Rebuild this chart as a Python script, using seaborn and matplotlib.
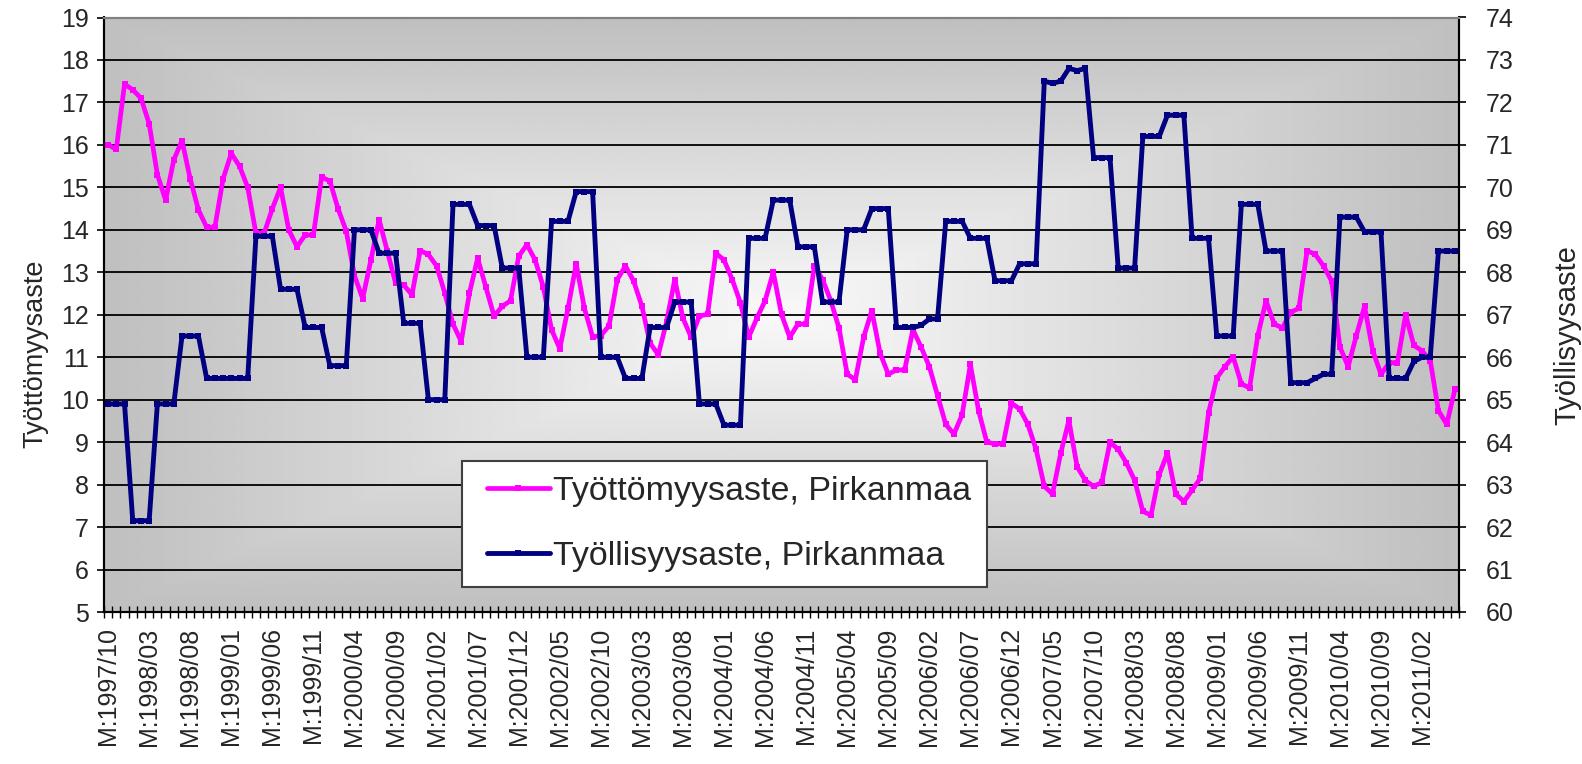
import numpy as np
import matplotlib.pyplot as plt
import seaborn as sns
from matplotlib.patches import Rectangle

# Monthly data, M:1997/10 ... M:2011/06
# Unemployment rate (left axis), Pirkanmaa
unemployment = [
    16.0, 15.9, 17.43,                                                              # 1997 Oct-Dec
    17.3, 17.1, 16.5, 15.3, 14.7, 15.65, 16.1, 15.2, 14.47, 14.06, 14.06, 15.2,      # 1998
    15.8, 15.5, 15.0, 13.92, 13.92, 14.5, 15.0, 14.0, 13.6, 13.88, 13.88, 15.24,     # 1999
    15.15, 14.5, 13.97, 12.92, 12.38, 13.29, 14.24, 13.5, 12.75, 12.7, 12.47, 13.51, # 2000
    13.42, 13.15, 12.51, 11.78, 11.37, 12.51, 13.33, 12.65, 11.97, 12.2, 12.33, 13.38,  # 2001
    13.65, 13.29, 12.65, 11.65, 11.2, 12.15, 13.2, 12.15, 11.48, 11.51, 11.74, 12.83,   # 2002
    13.15, 12.79, 12.2, 11.33, 11.06, 11.83, 12.83, 11.92, 11.47, 11.97, 12.01, 13.45,  # 2003
    13.29, 12.83, 12.28, 11.47, 11.92, 12.33, 13.0, 12.01, 11.47, 11.78, 11.78, 13.15,  # 2004
    12.83, 12.33, 11.69, 10.6, 10.47, 11.47, 12.1, 11.1, 10.6, 10.7, 10.7, 11.65,       # 2005
    11.24, 10.78, 10.1, 9.42, 9.19, 9.65, 10.83, 9.74, 9.0, 8.96, 8.96, 9.92,           # 2006
    9.78, 9.42, 8.83, 7.96, 7.78, 8.74, 9.51, 8.42, 8.1, 7.96, 8.05, 9.0,               # 2007
    8.83, 8.51, 8.1, 7.37, 7.28, 8.24, 8.74, 7.78, 7.6, 7.87, 8.15, 9.69,               # 2008
    10.51, 10.78, 11.01, 10.37, 10.28, 11.51, 12.33, 11.78, 11.69, 12.06, 12.15, 13.51, # 2009
    13.42, 13.15, 12.79, 11.24, 10.78, 11.51, 12.2, 11.15, 10.6, 10.87, 10.87, 12.0,    # 2010
    11.28, 11.15, 10.92, 9.74, 9.42, 10.24,                                          # 2011 Jan-Jun
]

# Employment rate (right axis), Pirkanmaa
employment = [
    64.9, 64.9, 64.9,
    62.15, 62.15, 62.15, 64.9, 64.9, 64.9, 66.5, 66.5, 66.5, 65.5, 65.5, 65.5,
    65.5, 65.5, 65.5, 68.85, 68.85, 68.85, 67.6, 67.6, 67.6, 66.7, 66.7, 66.7,
    65.8, 65.8, 65.8, 69.0, 69.0, 69.0, 68.45, 68.45, 68.45, 66.8, 66.8, 66.8,
    65.0, 65.0, 65.0, 69.6, 69.6, 69.6, 69.1, 69.1, 69.1, 68.1, 68.1, 68.1,
    66.0, 66.0, 66.0, 69.2, 69.2, 69.2, 69.9, 69.9, 69.9, 66.0, 66.0, 66.0,
    65.5, 65.5, 65.5, 66.7, 66.7, 66.7, 67.3, 67.3, 67.3, 64.9, 64.9, 64.9,
    64.4, 64.4, 64.4, 68.8, 68.8, 68.8, 69.7, 69.7, 69.7, 68.6, 68.6, 68.6,
    67.3, 67.3, 67.3, 69.0, 69.0, 69.0, 69.5, 69.5, 69.5, 66.7, 66.7, 66.7,
    66.75, 66.9, 66.9, 69.2, 69.2, 69.2, 68.8, 68.8, 68.8, 67.8, 67.8, 67.8,
    68.2, 68.2, 68.2, 72.5, 72.45, 72.5, 72.8, 72.75, 72.8, 70.7, 70.7, 70.7,
    68.1, 68.1, 68.1, 71.2, 71.2, 71.2, 71.7, 71.7, 71.7, 68.8, 68.8, 68.8,
    66.5, 66.5, 66.5, 69.6, 69.6, 69.6, 68.5, 68.5, 68.5, 65.4, 65.4, 65.4,
    65.5, 65.6, 65.6, 69.3, 69.3, 69.3, 68.95, 68.95, 68.95, 65.5, 65.5, 65.5,
    65.9, 66.0, 66.0, 68.5, 68.5, 68.5,
]

tick_labels = ['M:1997/10', 'M:1998/03', 'M:1998/08', 'M:1999/01', 'M:1999/06',
               'M:1999/11', 'M:2000/04', 'M:2000/09', 'M:2001/02', 'M:2001/07',
               'M:2001/12', 'M:2002/05', 'M:2002/10', 'M:2003/03', 'M:2003/08',
               'M:2004/01', 'M:2004/06', 'M:2004/11', 'M:2005/04', 'M:2005/09',
               'M:2006/02', 'M:2006/07', 'M:2006/12', 'M:2007/05', 'M:2007/10',
               'M:2008/03', 'M:2008/08', 'M:2009/01', 'M:2009/06', 'M:2009/11',
               'M:2010/04', 'M:2010/09', 'M:2011/02']

label_unemp = 'Työttömyysaste, Pirkanmaa'
label_emp = 'Työllisyysaste, Pirkanmaa'

sns.set_style('ticks')
plt.rcParams['font.family'] = ['Liberation Sans', 'DejaVu Sans']

W, H = 1582, 764
fig = plt.figure(figsize=(W / 100, H / 100), dpi=100)
ax = fig.add_axes([104 / W, 1 - 612 / H, 1355 / W, 594.5 / H])

# grey-to-white "from centre" background
u, v = np.meshgrid(np.linspace(-1, 1, 700), np.linspace(-1, 1, 350))
t = np.maximum(np.abs(u), np.abs(v))
shade = 0.975 - (0.975 - 0.75) * t
ax.imshow(shade, cmap='gray', vmin=0, vmax=1, extent=(0, 1, 0, 1),
          transform=ax.transAxes, aspect='auto', zorder=-5, interpolation='bilinear')

x = np.arange(len(unemployment))
sns.lineplot(x=x, y=unemployment, ax=ax, color='#ff00ff', lw=3.4, marker='s',
             markersize=4.5, markeredgewidth=0, estimator=None, label=label_unemp, legend=False)

ax2 = ax.twinx()
sns.lineplot(x=x, y=employment, ax=ax2, color='#000080', lw=3.5, marker='s',
             markersize=4.5, markeredgewidth=0, estimator=None, label=label_emp, legend=False)

ax.set_xlim(-0.5, len(unemployment) - 0.5)
ax.set_ylim(5, 19)
ax2.set_ylim(60, 74)
ax.set_yticks(range(5, 20))
ax2.set_yticks(range(60, 75))

ax.yaxis.grid(True, color='black', lw=1.3)
ax.xaxis.grid(False)
ax.set_axisbelow(True)

ax.set_xticks(np.arange(0, len(unemployment), 5))
ax.set_xticklabels(tick_labels, rotation=90)
ax.set_xticks(np.arange(-0.5, len(unemployment), 1), minor=True)
ax.tick_params(axis='x', which='major', length=0, pad=11, labelsize=18)
ax.tick_params(axis='x', which='minor', length=8, width=1, direction='inout', color='black')
ax.tick_params(axis='y', length=5, width=1.2, pad=6, labelsize=18, color='black')
ax2.tick_params(axis='y', length=5, width=1.2, pad=14, labelsize=18, color='black')

for a in (ax, ax2):
    for side in ('left', 'right', 'bottom'):
        a.spines[side].set_color('black')
        a.spines[side].set_linewidth(1.5)
    a.spines['top'].set_color('#808080')
    a.spines['top'].set_linewidth(1.5)
    a.set_xlabel('')
    a.set_ylabel('')

fig.text(35 / W, 1 - 354 / H, 'Työttömyysaste', rotation=90, ha='center', va='center', fontsize=19.5)
fig.text(1567 / W, 1 - 335 / H, 'Työllisyysaste', rotation=90, ha='center', va='center', fontsize=21)

# legend box drawn separately so the padding matches the reference
box = Rectangle((462 / W, 1 - 587 / H), 525 / W, 126 / H, transform=fig.transFigure,
                facecolor='white', edgecolor='#404040', lw=1.5, zorder=10, clip_on=False)
ax2.add_patch(box)

handles = ax.get_lines()[:1] + ax2.get_lines()[:1]
leg = ax2.legend(handles, [label_unemp, label_emp], loc='center left',
                 bbox_to_anchor=(487 / W, 1 - 524 / H), bbox_transform=fig.transFigure,
                 borderaxespad=0, borderpad=0, frameon=False, fontsize=24.5,
                 handlelength=1.85, handletextpad=0.1, labelspacing=1.0)
leg.set_zorder(11)

fig.savefig('out.png', dpi=100)
